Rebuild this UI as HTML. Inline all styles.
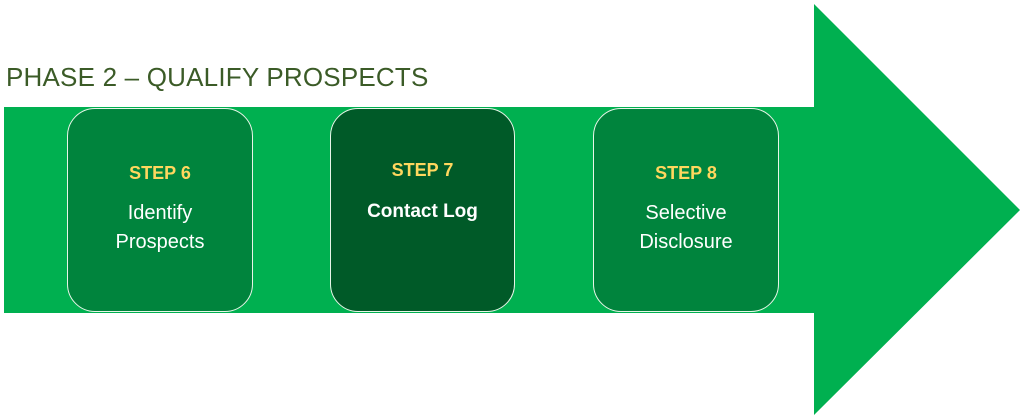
<!DOCTYPE html>
<html><head><style>
body{margin:0;width:1024px;height:420px;background:#fff;position:relative;overflow:hidden;font-family:"Liberation Sans",sans-serif}
.t{position:absolute;left:6px;top:62px;font-size:26px;color:#3b5b27;letter-spacing:0.2px}
.b{position:absolute;top:108px;width:182px;height:204px;border:1.5px solid #e8f5e8;border-radius:28px;box-sizing:border-box;text-align:center;color:#fff}
.s{position:absolute;left:0;right:0;font-weight:bold;font-size:18px;color:#ffd75e}
.l{position:absolute;left:0;right:0;font-size:20px;line-height:29px}
</style></head><body>
<svg width="1024" height="420" style="position:absolute;left:0;top:0">
<polygon points="4,107 814,107 814,4 1020,210 814,415 814,313 4,313" fill="#00b050"/>
</svg>
<div class="t">PHASE 2 – QUALIFY PROSPECTS</div>
<div class="b" style="left:67px;width:186px;background:#00843d"><div class="s" style="top:54px">STEP 6</div><div class="l" style="top:90px">Identify<br>Prospects</div></div>
<div class="b" style="left:330px;width:185px;background:#005a28"><div class="s" style="top:51px">STEP 7</div><div class="l" style="top:88px;font-weight:bold;font-size:19px">Contact Log</div></div>
<div class="b" style="left:593px;width:186px;background:#00843d"><div class="s" style="top:54px">STEP 8</div><div class="l" style="top:90px">Selective<br>Disclosure</div></div>
</body></html>
